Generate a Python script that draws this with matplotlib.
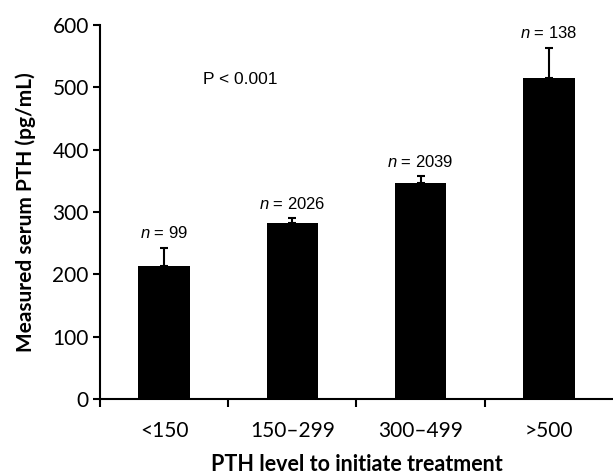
import matplotlib
matplotlib.use('Agg')
import matplotlib.pyplot as plt
import numpy as np

# 값
groups = ['<150', '150\u2013299', '300\u2013499', '>500']
means = [214, 282, 347, 516]
err_up = [29, 8, 11, 48]
n_vals = [99, 2026, 2039, 138]
yticks = [0, 100, 200, 300, 400, 500, 600]

plt.rcParams['font.family'] = ['Lato', 'DejaVu Sans']
plt.rcParams['mathtext.fontset'] = 'custom'
plt.rcParams['mathtext.it'] = 'Liberation Sans:italic'
plt.rcParams['mathtext.rm'] = 'Liberation Sans'

fig = plt.figure(figsize=(6.13, 4.75), dpi=100)
ax = fig.add_axes([0.163, 0.16, 0.837, 0.787])

x = np.arange(len(groups))
ax.bar(x, means, width=0.4, color='black', zorder=2)
ax.errorbar(x, means, yerr=[np.zeros(len(means)), err_up], fmt='none',
            ecolor='black', elinewidth=1.5, capsize=3, capthick=1.5, zorder=3)

for xi, m, e, n in zip(x, means, err_up, n_vals):
    ax.text(xi, m + e + 10, f'$n$ = {n}', ha='center', va='bottom',
            fontsize=12, family=['Liberation Sans', 'DejaVu Sans'])

ax.text(0.3, 513, 'P < 0.001', ha='left', va='center', fontsize=12.5,
        family=['Liberation Sans', 'DejaVu Sans'])

ax.set_xlim(-0.5, 3.5)
ax.set_ylim(0, 600)
ax.set_yticks(yticks)
ax.tick_params(axis='y', labelsize=15, width=1.5, length=5, direction='out', pad=3)
ax.set_xticks([-0.5, 0.5, 1.5, 2.5])
ax.set_xticklabels([])
ax.tick_params(axis='x', width=1.5, length=6, direction='out')
ax.set_xticks(x, minor=True)
ax.set_xticklabels(groups, minor=True, fontsize=15)
ax.tick_params(axis='x', which='minor', length=0, pad=16)

for s in ['top', 'right']:
    ax.spines[s].set_visible(False)
for s in ['left', 'bottom']:
    ax.spines[s].set_linewidth(1.5)

ax.set_ylabel('Measured serum PTH (pg/mL)', fontsize=15, fontweight='bold', labelpad=12)
ax.set_xlabel('PTH level to initiate treatment', fontsize=15.5, fontweight='bold', labelpad=9)

plt.savefig('out.png', dpi=100)
plt.close()
